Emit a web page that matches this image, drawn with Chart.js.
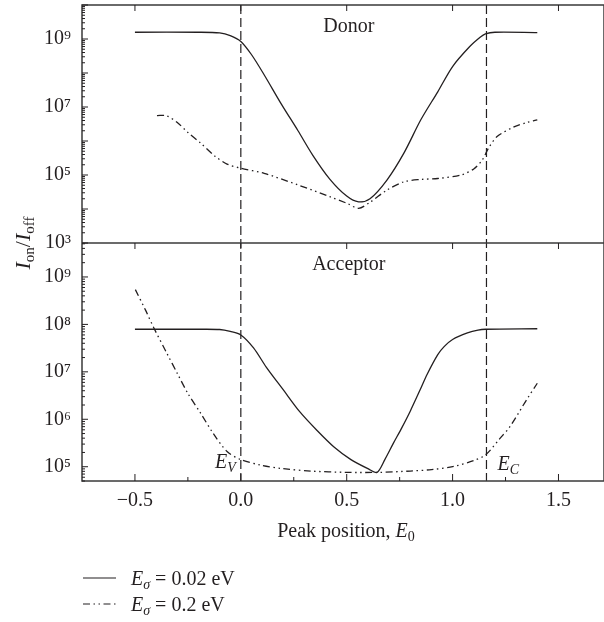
<!DOCTYPE html>
<html lang="en">
<head>
<meta charset="UTF-8">
<title>Ion/Ioff versus peak position</title>
<script src="https://cdn.jsdelivr.net/npm/chart.js"></script>
<style>
    html, body { margin: 0; padding: 0; background: #ffffff; }
    .chart-box { position: relative; width: 604px; height: 622px; }
</style>
</head>
<body>
<div class="chart-box"><canvas id="ionChart"></canvas></div>
<script>
// band edges (eV)
const E_V = 0.0;
const E_C = 1.16;

const X_MIN = -0.75;
const X_MAX = 1.715;
const X_TICKS = [-0.5, 0.0, 0.5, 1.0, 1.5];
const X_MINOR = [-0.25, 0.25, 0.75, 1.25];

const DONOR_TICKS = [1e3, 1e5, 1e7, 1e9];
const ACCEPTOR_TICKS = [1e5, 1e6, 1e7, 1e8, 1e9];

// Donor, E_sigma = 0.02 eV
const DONOR_X_002 = [-0.5, -0.2, -0.1, -0.05, 0.0, 0.05, 0.11, 0.19, 0.27, 0.34, 0.42, 0.5, 0.556, 0.61, 0.69, 0.77, 0.85, 0.93, 1.0, 1.08, 1.13, 1.155, 1.2, 1.4];
const DONOR_Y_002 = [1.58e9, 1.58e9, 1.51e9, 1.26e9, 8.5e8, 3.5e8, 8.9e7, 1.26e7, 2.0e6, 3.8e5, 7.6e4, 2.4e4, 1.62e4, 2.0e4, 7.1e4, 4.4e5, 4.2e6, 2.8e7, 1.55e8, 5.9e8, 1.12e9, 1.41e9, 1.58e9, 1.55e9];

// Donor, E_sigma = 0.2 eV
const DONOR_X_02 = [-0.396, -0.35, -0.3, -0.25, -0.19, -0.12, -0.065, 0.0, 0.11, 0.27, 0.42, 0.5, 0.556, 0.61, 0.69, 0.77, 0.85, 0.93, 1.04, 1.1, 1.14, 1.17, 1.21, 1.29, 1.35, 1.4];
const DONOR_Y_02 = [5.6e6, 5.5e6, 3.5e6, 1.78e6, 8.7e5, 3.5e5, 2.1e5, 1.58e5, 1.12e5, 5.1e4, 2.3e4, 1.48e4, 1.05e4, 1.58e4, 3.6e4, 6.3e4, 7.4e4, 7.9e4, 1.0e5, 1.51e5, 2.75e5, 6.2e5, 1.35e6, 2.6e6, 3.5e6, 4.2e6];

// Acceptor, E_sigma = 0.02 eV
const ACC_X_002 = [-0.5, -0.2, -0.1, -0.05, 0.0, 0.06, 0.12, 0.2, 0.28, 0.36, 0.44, 0.52, 0.6, 0.643, 0.68, 0.72, 0.76, 0.8, 0.85, 0.88, 0.93, 0.96, 1.0, 1.07, 1.12, 1.156, 1.4];
const ACC_Y_002 = [7.9e7, 7.9e7, 7.8e7, 7.1e7, 6.0e7, 3.2e7, 1.26e7, 4.2e6, 1.41e6, 5.8e5, 2.6e5, 1.41e5, 9.1e4, 7.6e4, 1.41e5, 3.1e5, 6.6e5, 1.48e6, 4.5e6, 8.9e6, 2.3e7, 3.4e7, 4.8e7, 6.6e7, 7.6e7, 7.9e7, 8.1e7];

// Acceptor, E_sigma = 0.2 eV
const ACC_X_02 = [-0.498, -0.45, -0.41, -0.35, -0.3, -0.25, -0.19, -0.13, -0.065, 0.0, 0.1, 0.2, 0.33, 0.5, 0.65, 0.8, 0.9, 1.0, 1.1, 1.156, 1.225, 1.27, 1.35, 1.4];
const ACC_Y_02 = [5.4e8, 2.0e8, 8.3e7, 2.5e7, 9.3e6, 3.5e6, 1.35e6, 5.0e5, 2.1e5, 1.41e5, 1.07e5, 9.1e4, 8.1e4, 7.6e4, 7.6e4, 8.1e4, 8.7e4, 1.0e5, 1.35e5, 1.78e5, 4.0e5, 6.9e5, 2.6e6, 5.75e6];

const INK = '#231f20';
const SERIF = "'Liberation Serif', 'Times New Roman', 'DejaVu Serif', serif";
const DASH_DOT_DOT = [7, 3.5, 1.5, 3.5, 1.5, 3.5];
const SUP = {'0':'⁰','1':'¹','2':'²','3':'³','4':'⁴','5':'⁵','6':'⁶','7':'⁷','8':'⁸','9':'⁹'};

function pairs(xs, ys) {
    return xs.map((x, i) => ({x: x, y: ys[i]}));
}

function powerLabel(v) {
    const e = Math.round(Math.log10(v));
    return '10' + String(e).split('').map(c => SUP[c]).join('');
}

function xLabel(v) {
    return (v < 0 ? '\u2212' : '') + Math.abs(v).toFixed(1);
}

// draws a sequence of text pieces (for italics / subscripts)
function drawRuns(ctx, runs, x, y, align) {
    let total = 0;
    runs.forEach(r => {
        ctx.font = (r.italic ? 'italic ' : '') + (r.size || 20) + 'px ' + SERIF;
        r.w = ctx.measureText(r.t).width;
        total += r.w;
    });
    let cx = align === 'center' ? x - total / 2 : (align === 'right' ? x - total : x);
    ctx.textAlign = 'left';
    ctx.textBaseline = 'alphabetic';
    runs.forEach(r => {
        ctx.font = (r.italic ? 'italic ' : '') + (r.size || 20) + 'px ' + SERIF;
        ctx.fillText(r.t, cx, y + (r.dy || 0));
        cx += r.w;
    });
}

const decor = {
    id: 'decor',
    beforeDatasetsDraw(chart) {
        const ctx = chart.ctx;
        const a = chart.chartArea;
        const xs = chart.scales.x;
        ctx.save();
        ctx.strokeStyle = INK;
        ctx.lineWidth = 1.2;
        ctx.setLineDash([9, 4]);
        [E_V, E_C].forEach(e => {
            const px = xs.getPixelForValue(e);
            ctx.beginPath();
            ctx.moveTo(px, a.top);
            ctx.lineTo(px, a.bottom);
            ctx.stroke();
        });
        ctx.restore();
    },
    afterDatasetsDraw(chart) {
        const ctx = chart.ctx;
        const a = chart.chartArea;
        const xs = chart.scales.x;
        const yD = chart.scales.yDonor;
        const yA = chart.scales.yAcceptor;
        const mid = yD.bottom;

        ctx.save();
        ctx.strokeStyle = '#3a3a3a';
        ctx.lineWidth = 1.5;
        ctx.strokeRect(a.left, a.top, a.right - a.left, a.bottom - a.top);
        ctx.beginPath();
        ctx.moveTo(a.left, mid);
        ctx.lineTo(a.right, mid);
        ctx.stroke();

        // inward ticks
        ctx.lineWidth = 1;
        ctx.strokeStyle = INK;
        function hTick(scale, v, len) {
            const py = scale.getPixelForValue(v);
            ctx.beginPath();
            ctx.moveTo(a.left, py);
            ctx.lineTo(a.left + len, py);
            ctx.stroke();
        }
        function logTicks(scale, lo, hi) {
            for (let n = lo; n <= hi; n++) {
                for (let k = 1; k <= 9; k++) {
                    const v = k * Math.pow(10, n);
                    if (v < scale.min * 0.999 || v > scale.max * 1.001) continue;
                    hTick(scale, v, k === 1 ? 6 : 3);
                }
            }
        }
        logTicks(yD, 3, 10);
        logTicks(yA, 4, 9);

        X_TICKS.forEach(v => {
            const px = xs.getPixelForValue(v);
            ctx.beginPath();
            ctx.moveTo(px, a.bottom); ctx.lineTo(px, a.bottom - 7);
            ctx.moveTo(px, a.top); ctx.lineTo(px, a.top + 6);
            ctx.moveTo(px, mid); ctx.lineTo(px, mid + 6);
            ctx.stroke();
        });
        X_MINOR.forEach(v => {
            const px = xs.getPixelForValue(v);
            ctx.beginPath();
            ctx.moveTo(px, a.bottom); ctx.lineTo(px, a.bottom - 4);
            ctx.stroke();
        });

        // texts
        ctx.fillStyle = INK;
        const cx = xs.getPixelForValue(0.51);
        drawRuns(ctx, [{t: 'Donor'}], cx, yD.top + 27, 'center');
        drawRuns(ctx, [{t: 'Acceptor'}], cx, yA.top + 27, 'center');

        const pv = xs.getPixelForValue(E_V);
        drawRuns(ctx, [{t: 'E', italic: true}, {t: 'V', italic: true, size: 14, dy: 4}], pv - 5, 468, 'right');
        const pc = xs.getPixelForValue(E_C);
        drawRuns(ctx, [{t: 'E', italic: true}, {t: 'C', italic: true, size: 14, dy: 4}], pc + 11, 470, 'left');

        drawRuns(ctx, [{t: 'Peak position, '}, {t: 'E', italic: true}, {t: '0', size: 14, dy: 4}],
            (a.left + a.right) / 2 + 3, 537, 'center');

        // y title
        ctx.save();
        ctx.translate(30, mid);
        ctx.rotate(-Math.PI / 2);
        drawRuns(ctx, [
            {t: 'I', italic: true, size: 22},
            {t: 'on', size: 15, dy: 4},
            {t: '/', size: 22},
            {t: 'I', italic: true, size: 22},
            {t: 'off', size: 15, dy: 4}
        ], 0, 0, 'center');
        ctx.restore();

        // legend
        const rows = [
            {y: 578, dash: [], label: ' = 0.02 eV'},
            {y: 604, dash: DASH_DOT_DOT, label: ' = 0.2 eV'}
        ];
        rows.forEach(r => {
            ctx.setLineDash(r.dash);
            ctx.lineWidth = 1.2;
            ctx.beginPath();
            ctx.moveTo(83, r.y);
            ctx.lineTo(116, r.y);
            ctx.stroke();
            ctx.setLineDash([]);
            drawRuns(ctx, [
                {t: 'E', italic: true},
                {t: 'σ', italic: true, size: 14, dy: 4},
                {t: r.label}
            ], 131, r.y + 7, 'left');
        });
        ctx.restore();
    }
};

function lineSet(label, xs, ys, axis, dash) {
    return {
        label: label,
        data: pairs(xs, ys),
        yAxisID: axis,
        borderColor: INK,
        borderWidth: 1.3,
        borderDash: dash,
        pointRadius: 0,
        fill: false,
        tension: 0.3
    };
}

function noPadY(s) {
    s.width = 82;
    s.paddingTop = 0;
    s.paddingBottom = 0;
}

Chart.defaults.font.family = SERIF;
Chart.defaults.color = INK;

const ctx = document.getElementById('ionChart').getContext('2d');
new Chart(ctx, {
    type: 'line',
    data: {
        datasets: [
            lineSet('Donor, Eσ = 0.02 eV', DONOR_X_002, DONOR_Y_002, 'yDonor', []),
            lineSet('Donor, Eσ = 0.2 eV', DONOR_X_02, DONOR_Y_02, 'yDonor', DASH_DOT_DOT),
            lineSet('Acceptor, Eσ = 0.02 eV', ACC_X_002, ACC_Y_002, 'yAcceptor', []),
            lineSet('Acceptor, Eσ = 0.2 eV', ACC_X_02, ACC_Y_02, 'yAcceptor', DASH_DOT_DOT)
        ]
    },
    options: {
        responsive: true,
        maintainAspectRatio: false,
        animation: false,
        layout: { padding: { top: 5, right: 0, bottom: 0, left: 0 } },
        scales: {
            x: {
                type: 'linear',
                min: X_MIN,
                max: X_MAX,
                grid: { display: false, drawTicks: false },
                border: { display: false },
                afterBuildTicks: s => { s.ticks = X_TICKS.map(v => ({value: v})); },
                afterFit: s => { s.height = 141; s.paddingLeft = 0; s.paddingRight = 0; },
                ticks: {
                    padding: 8,
                    autoSkip: false,
                    maxRotation: 0,
                    font: { size: 20 },
                    color: INK,
                    callback: v => xLabel(v)
                }
            },
            yAcceptor: {
                type: 'logarithmic',
                position: 'left',
                stack: 'panels',
                stackWeight: 1,
                min: 5e4,
                max: 5.2e9,
                grid: { display: false, drawTicks: false },
                border: { display: false },
                afterBuildTicks: s => { s.ticks = ACCEPTOR_TICKS.map(v => ({value: v})); },
                afterFit: noPadY,
                ticks: { padding: 11, autoSkip: false, font: { size: 20 }, color: INK, callback: v => powerLabel(v) }
            },
            yDonor: {
                type: 'logarithmic',
                position: 'left',
                stack: 'panels',
                stackWeight: 1,
                min: 1e3,
                max: 1e10,
                grid: { display: false, drawTicks: false },
                border: { display: false },
                afterBuildTicks: s => { s.ticks = DONOR_TICKS.map(v => ({value: v})); },
                afterFit: noPadY,
                ticks: { padding: 11, autoSkip: false, font: { size: 20 }, color: INK, callback: v => powerLabel(v) }
            }
        },
        plugins: {
            legend: { display: false },
            tooltip: { enabled: false }
        }
    },
    plugins: [decor]
});
</script>
</body>
</html>
